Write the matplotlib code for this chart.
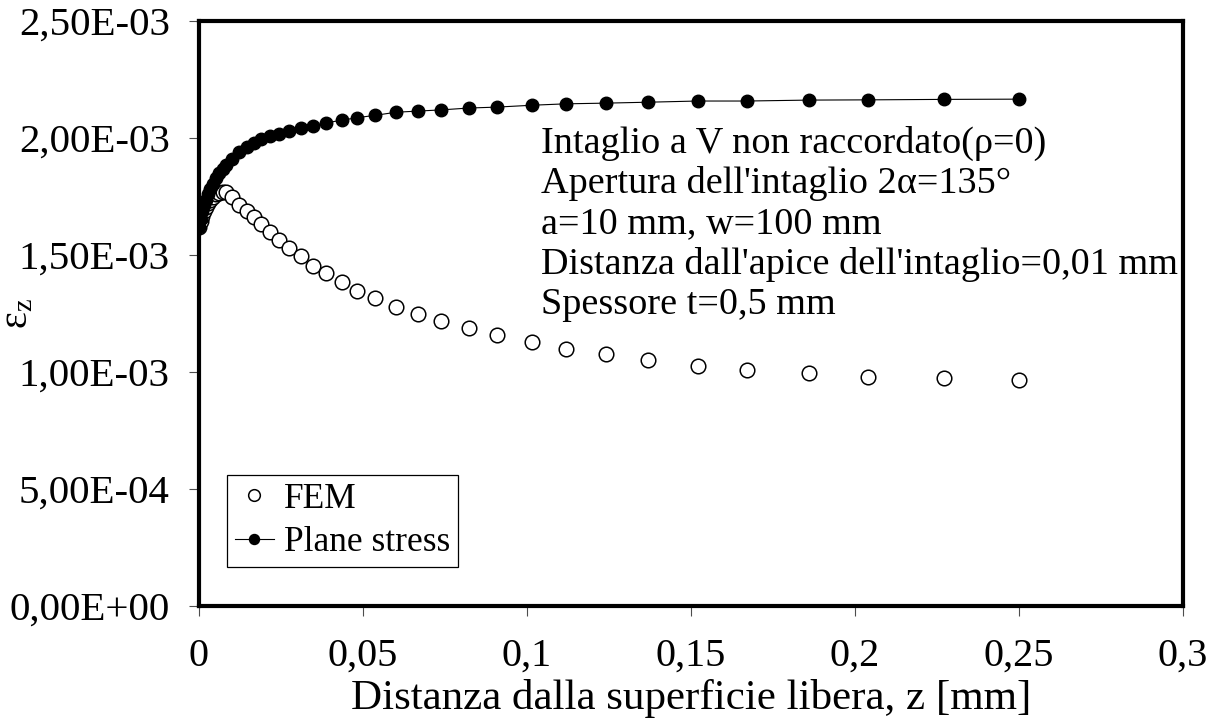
import matplotlib
matplotlib.use("Agg")
import matplotlib.pyplot as plt


# distanza dalla superficie libera z [mm], nodi comuni alle due serie
z = [0.0, 0.0005, 0.001, 0.0015, 0.002, 0.0027, 0.0035, 0.0043, 0.0052, 0.0062,
     0.0072, 0.0082, 0.0100, 0.0122, 0.0145, 0.0167, 0.0190, 0.0215, 0.0243, 0.0275,
     0.0310, 0.0347, 0.0388, 0.0435, 0.0483, 0.0538, 0.0600, 0.0667, 0.0737, 0.0822,
     0.0908, 0.1015, 0.1118, 0.1240, 0.1370, 0.1520, 0.1670, 0.1860, 0.2040, 0.2270,
     0.2500]

eps_fem = [1.620, 1.645, 1.668, 1.688, 1.705, 1.722, 1.737, 1.750, 1.760, 1.767,
           1.770, 1.769, 1.747, 1.714, 1.688, 1.661, 1.631, 1.597, 1.563, 1.528,
           1.494, 1.455, 1.421, 1.383, 1.348, 1.318, 1.276, 1.246, 1.216, 1.190,
           1.160, 1.127, 1.100, 1.077, 1.052, 1.027, 1.008, 0.997, 0.980, 0.976,
           0.967]

eps_plane_stress = [1.620, 1.655, 1.690, 1.715, 1.737, 1.760, 1.782, 1.805, 1.828, 1.850,
                    1.868, 1.885, 1.912, 1.940, 1.962, 1.980, 1.995, 2.007, 2.019, 2.030,
                    2.042, 2.053, 2.065, 2.076, 2.087, 2.097, 2.110, 2.115, 2.120, 2.128,
                    2.132, 2.140, 2.146, 2.149, 2.153, 2.158, 2.158, 2.162, 2.163, 2.165,
                    2.166]

xticks = [0, 0.05, 0.1, 0.15, 0.2, 0.25, 0.3]
xtick_labels = ['0', '0,05', '0,1', '0,15', '0,2', '0,25', '0,3']
yticks = [0, 0.0005, 0.001, 0.0015, 0.002, 0.0025]
ytick_labels = ['0,00E+00', '5,00E-04', '1,00E-03', '1,50E-03', '2,00E-03', '2,50E-03']

info_lines = [
    "Intaglio a V non raccordato(ρ=0)",
    "Apertura dell'intaglio 2α=135°",
    "a=10 mm, w=100 mm",
    "Distanza dall'apice dell'intaglio=0,01 mm",
    "Spessore t=0,5 mm",
]

plt.rcParams['font.family'] = ['Liberation Serif', 'DejaVu Serif']
plt.rcParams['mathtext.default'] = 'regular'

fig = plt.figure(figsize=(12.23, 7.2), dpi=100)
ax = fig.add_axes([199 / 1223, 114 / 720, 984 / 1223, 585 / 720])

ax.plot(z, [e * 1e-3 for e in eps_fem], linestyle='none', marker='o',
        markersize=10.5, markerfacecolor='white', markeredgecolor='black',
        markeredgewidth=1.1, label='FEM', zorder=3)
ax.plot(z, [e * 1e-3 for e in eps_plane_stress], color='black', linewidth=0.8,
        marker='o', markersize=9, markerfacecolor='black',
        markeredgecolor='black', label='Plane stress', zorder=4)

ax.set_xlim(0, 0.3)
ax.set_ylim(0, 0.0025)
ax.set_xticks(xticks)
ax.set_xticklabels(xtick_labels, fontsize=29)
ax.set_yticks(yticks)
ax.set_yticklabels(ytick_labels, fontsize=29.5)
ax.tick_params(axis='both', direction='out', length=7, width=0.8, color='0.3')
ax.tick_params(axis='y', pad=14)
ax.tick_params(axis='x', pad=16)

for spine in ax.spines.values():
    spine.set_linewidth(3)
    spine.set_color('black')

ax.set_xlabel('Distanza dalla superficie libera, z [mm]', fontsize=31, labelpad=3)
ax.set_ylabel('$ε_z$', fontsize=29)
ax.yaxis.set_label_coords(-0.165, 0.5)

# riquadro con i dati geometrici
for i, line in enumerate(info_lines):
    ax.text(0.3476, 0.791 - i * 0.069, line, transform=ax.transAxes,
            fontsize=27.5, va='center', ha='left')

leg = ax.legend(loc='lower left', bbox_to_anchor=(0.0285, 0.0667), borderaxespad=0,
                fontsize=25.5, markerscale=0.8, handlelength=1.1, handletextpad=0.3,
                labelspacing=0.3, borderpad=0.22, fancybox=False, framealpha=1)
leg.get_frame().set_edgecolor('black')
leg.get_frame().set_linewidth(0.9)

plt.savefig('out.png', dpi=100)
